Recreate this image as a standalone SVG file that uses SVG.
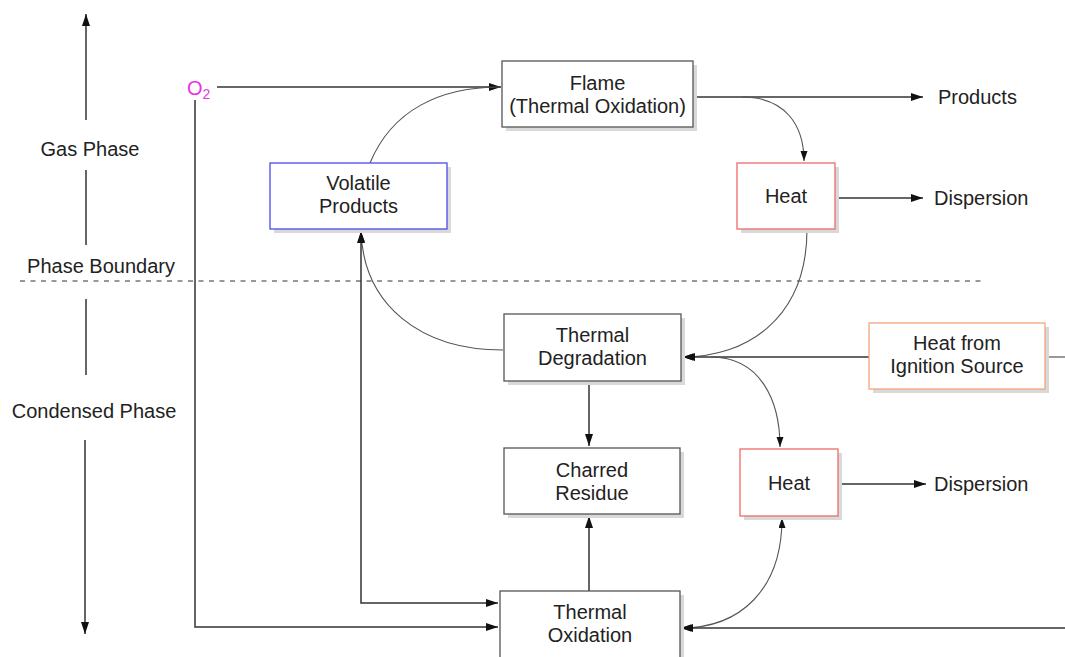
<svg xmlns="http://www.w3.org/2000/svg" width="1065" height="657" viewBox="0 0 1065 657">
<style>
  text { font-family: "Liberation Sans", Arial, sans-serif; font-size: 20px; fill: #222; }
  .c { text-anchor: middle; }
  .shadow { fill: #d9d9d9; }
  .box { fill: #fff; stroke: #555; stroke-width: 1.3; }
  .blue { stroke: #4a4af0; }
  .red { stroke: #ee6a6a; }
  .orange { stroke: #f5a57a; }
  .ln { fill: none; stroke: #333; stroke-width: 1.5; }
  .cv { fill: none; stroke: #555; stroke-width: 1.1; }
  .dash { fill: none; stroke: #777; stroke-width: 1.5; stroke-dasharray: 5 5.5; }
</style>
<defs>
  <marker id="ah" markerUnits="userSpaceOnUse" markerWidth="13" markerHeight="9" refX="12" refY="4" orient="auto-start-reverse">
    <path d="M0,0 L12,4 L0,8 Z" fill="#111"/>
  </marker>
  <marker id="ahs" markerUnits="userSpaceOnUse" markerWidth="11" markerHeight="8" refX="10" refY="3.5" orient="auto-start-reverse">
    <path d="M0,0 L10,3.5 L0,7 Z" fill="#111"/>
  </marker>
</defs>
<rect width="1065" height="657" fill="#fff"/>

<g id="axis">
  <line class="ln" x1="86" y1="120" x2="86" y2="14" marker-end="url(#ah)"/>
  <text x="90" y="156" class="c">Gas Phase</text>
  <line class="ln" x1="86" y1="170" x2="86" y2="245"/>
  <text x="101" y="273" class="c">Phase Boundary</text>
  <line class="dash" x1="20" y1="281" x2="982" y2="281"/>
  <line class="ln" x1="86" y1="299" x2="86" y2="375"/>
  <text x="94" y="418" class="c">Condensed Phase</text>
  <line class="ln" x1="85" y1="440" x2="85" y2="634" marker-end="url(#ah)"/>
</g>

<g id="o2">
  <text x="187" y="95" style="fill:#e633e6">O<tspan font-size="14" dy="4">2</tspan></text>
</g>

<g id="connectors">
  <line class="ln" x1="217" y1="87" x2="501" y2="87" marker-end="url(#ah)"/>
  <path class="cv" d="M370,163 C392,110 440,87 500,87"/>
  <line class="ln" x1="693" y1="97" x2="923" y2="97" marker-end="url(#ah)"/>
  <path class="cv" d="M742,97 C785,97 804,125 804,161" marker-end="url(#ahs)"/>
  <line class="ln" x1="835" y1="198" x2="923" y2="198" marker-end="url(#ah)"/>
  <path class="cv" d="M807,229 C807,320 745,357 683,357" marker-end="url(#ahs)"/>
  <line class="ln" x1="1065" y1="357" x2="1045" y2="357" style="stroke:#777"/>
  <line class="ln" x1="869" y1="357" x2="683" y2="357" marker-end="url(#ah)"/>
  <path class="cv" d="M711,357 C760,357 780,400 780,447" marker-end="url(#ahs)"/>
  <path class="cv" d="M503,350 C420,350 364,305 361,232" marker-end="url(#ahs)"/>
  <polyline class="ln" points="361,231 361,603 498,603" marker-start="url(#ah)" marker-end="url(#ah)"/>
  <polyline class="ln" points="195,100 195,627 498,627" marker-end="url(#ah)"/>
  <line class="ln" x1="589" y1="381" x2="589" y2="446" marker-end="url(#ah)"/>
  <line class="ln" x1="589" y1="591" x2="589" y2="516" marker-end="url(#ah)"/>
  <line class="ln" x1="838" y1="484" x2="926" y2="484" marker-end="url(#ah)"/>
  <path class="cv" d="M782,518 C782,590 740,628 681,628" marker-start="url(#ahs)" marker-end="url(#ahs)"/>
  <line class="ln" x1="1065" y1="628" x2="681" y2="628" marker-end="url(#ah)"/>
</g>

<g id="flame">
  <rect class="shadow" x="506" y="65" width="191" height="66"/>
  <rect class="box" x="502" y="61" width="191" height="66"/>
  <text x="597.5" y="90" class="c">Flame</text>
  <text x="597.5" y="113" class="c">(Thermal Oxidation)</text>
</g>

<g id="products">
  <text x="938" y="104">Products</text>
</g>

<g id="volatile">
  <rect class="shadow" x="274" y="167" width="177" height="66"/>
  <rect class="box blue" x="270" y="163" width="177" height="66"/>
  <text x="358.5" y="190" class="c">Volatile</text>
  <text x="358.5" y="213" class="c">Products</text>
</g>

<g id="heat1">
  <rect class="shadow" x="741" y="167" width="98" height="66"/>
  <rect class="box red" x="737" y="163" width="98" height="66"/>
  <text x="786" y="203" class="c">Heat</text>
</g>

<g id="dispersion1">
  <text x="934" y="205">Dispersion</text>
</g>

<g id="degradation">
  <rect class="shadow" x="508" y="318" width="177" height="67"/>
  <rect class="box" x="504" y="314" width="177" height="67"/>
  <text x="592.5" y="342" class="c">Thermal</text>
  <text x="592.5" y="365" class="c">Degradation</text>
</g>

<g id="ignition">
  <rect class="shadow" x="873" y="327" width="176" height="66"/>
  <rect class="box orange" x="869" y="323" width="176" height="66"/>
  <text x="957" y="350" class="c">Heat from</text>
  <text x="957" y="373" class="c">Ignition Source</text>
</g>

<g id="charred">
  <rect class="shadow" x="508" y="452" width="176" height="66"/>
  <rect class="box" x="504" y="448" width="176" height="66"/>
  <text x="592" y="477" class="c">Charred</text>
  <text x="592" y="500" class="c">Residue</text>
</g>

<g id="heat2">
  <rect class="shadow" x="744" y="453" width="98" height="67"/>
  <rect class="box red" x="740" y="449" width="98" height="67"/>
  <text x="789" y="490" class="c">Heat</text>
</g>

<g id="dispersion2">
  <text x="934" y="491">Dispersion</text>
</g>

<g id="oxidation">
  <rect class="shadow" x="504" y="595" width="180" height="70"/>
  <rect class="box" x="500" y="591" width="180" height="70"/>
  <text x="590" y="619" class="c">Thermal</text>
  <text x="590" y="642" class="c">Oxidation</text>
</g>
</svg>
